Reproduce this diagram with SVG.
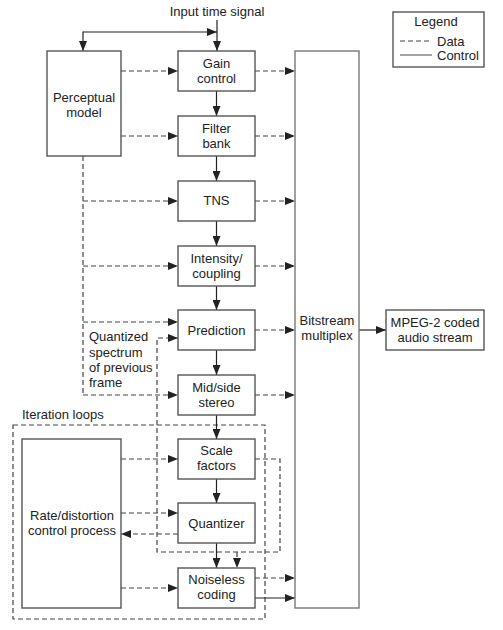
<svg xmlns="http://www.w3.org/2000/svg" width="503" height="630" viewBox="0 0 503 630">
<defs>
<marker id="ah" viewBox="0 0 10 8" refX="10" refY="4" markerWidth="10" markerHeight="8" markerUnits="userSpaceOnUse" orient="auto">
<path d="M0,0 L10,4 L0,8 Z" fill="#222"/>
</marker>
</defs>
<style>
text{font-family:"Liberation Sans",Arial,sans-serif;font-size:13px;fill:#222;text-anchor:middle}
.box{fill:#fff;stroke:#555;stroke-width:1.4}
.s{fill:none;stroke:#222;stroke-width:1.2}
.d{fill:none;stroke:#444;stroke-width:1.2;stroke-dasharray:5,3}
.a{marker-end:url(#ah)}
</style>
<rect width="503" height="630" fill="#fff"/>
<text x="217" y="16">Input time signal</text>

<g id="legend">
<rect x="393" y="12" width="91" height="55" class="box"/>
<text x="436" y="26">Legend</text>
<line x1="400" y1="41" x2="432" y2="41" class="d"/>
<text x="437" y="46" style="text-anchor:start">Data</text>
<line x1="400" y1="55" x2="432" y2="55" class="s" style="stroke:#666"/>
<text x="437" y="60" style="text-anchor:start">Control</text>
</g>

<g id="iteration-loops">
<rect x="13" y="425" width="252" height="194" class="d"/>
<text x="22" y="419" style="text-anchor:start">Iteration loops</text>
</g>

<g id="connectors">
<line x1="217" y1="20" x2="217" y2="51" class="s a"/>
<line x1="83" y1="32" x2="217" y2="32" class="s a"/>
<line x1="83" y1="31.4" x2="83" y2="51" class="s a"/>
<line x1="216.5" y1="91" x2="216.5" y2="116" class="s a"/>
<line x1="216.5" y1="156" x2="216.5" y2="181" class="s a"/>
<line x1="216.5" y1="221" x2="216.5" y2="246" class="s a"/>
<line x1="216.5" y1="286" x2="216.5" y2="310" class="s a"/>
<line x1="216.5" y1="350" x2="216.5" y2="375" class="s a"/>
<line x1="216.5" y1="415" x2="216.5" y2="439" class="s a"/>
<line x1="216.5" y1="479" x2="216.5" y2="503" class="s a"/>
<line x1="216.5" y1="543" x2="216.5" y2="568" class="s a"/>
<line x1="255" y1="71" x2="295" y2="71" class="d a"/>
<line x1="255" y1="136" x2="295" y2="136" class="d a"/>
<line x1="255" y1="201" x2="295" y2="201" class="d a"/>
<line x1="255" y1="266" x2="295" y2="266" class="d a"/>
<line x1="255" y1="330" x2="295" y2="330" class="d a"/>
<line x1="255" y1="395" x2="295" y2="395" class="d a"/>
<line x1="255" y1="578" x2="295" y2="578" class="d a"/>
<line x1="255" y1="598" x2="295" y2="598" class="s a"/>
<line x1="359" y1="330" x2="386" y2="330" class="s a"/>
<line x1="121" y1="71" x2="178" y2="71" class="d a"/>
<line x1="121" y1="136" x2="178" y2="136" class="d a"/>
<line x1="83" y1="156" x2="83" y2="395" class="d"/>
<line x1="83" y1="201" x2="178" y2="201" class="d a"/>
<line x1="83" y1="266" x2="178" y2="266" class="d a"/>
<line x1="83" y1="322" x2="178" y2="322" class="d a"/>
<line x1="83" y1="395" x2="178" y2="395" class="d a"/>
<path d="M255,459 H280 V552 H157 V338 H178" class="d a"/>
<line x1="237" y1="552" x2="237" y2="568" class="d a"/>
<line x1="121" y1="459" x2="178" y2="459" class="d a"/>
<line x1="121" y1="513" x2="178" y2="513" class="d a"/>
<line x1="178" y1="534" x2="121" y2="534" class="d a"/>
<line x1="121" y1="588" x2="178" y2="588" class="d a"/>
</g>

<g id="perceptual-model">
<rect x="47" y="51" width="74" height="105" class="box"/>
<text x="84" y="102">Perceptual</text>
<text x="84" y="117">model</text>
</g>
<g id="gain-control">
<rect x="178" y="51" width="77" height="40" class="box"/>
<text x="216.5" y="68">Gain</text>
<text x="216.5" y="83">control</text>
</g>
<g id="filter-bank">
<rect x="178" y="116" width="77" height="40" class="box"/>
<text x="216.5" y="133">Filter</text>
<text x="216.5" y="148">bank</text>
</g>
<g id="tns">
<rect x="178" y="181" width="77" height="40" class="box"/>
<text x="216.5" y="205">TNS</text>
</g>
<g id="intensity-coupling">
<rect x="178" y="246" width="77" height="40" class="box"/>
<text x="216.5" y="263">Intensity/</text>
<text x="216.5" y="278">coupling</text>
</g>
<g id="prediction">
<rect x="178" y="310" width="77" height="40" class="box"/>
<text x="216.5" y="335">Prediction</text>
</g>
<g id="quantized-label">
<text x="89" y="341" style="text-anchor:start">Quantized</text>
<text x="89" y="357" style="text-anchor:start">spectrum</text>
<text x="89" y="372" style="text-anchor:start">of previous</text>
<text x="89" y="387" style="text-anchor:start">frame</text>
</g>
<g id="mid-side-stereo">
<rect x="178" y="375" width="77" height="40" class="box"/>
<text x="216.5" y="392">Mid/side</text>
<text x="216.5" y="407">stereo</text>
</g>
<g id="scale-factors">
<rect x="178" y="439" width="77" height="40" class="box"/>
<text x="216.5" y="455">Scale</text>
<text x="216.5" y="470">factors</text>
</g>
<g id="quantizer">
<rect x="178" y="503" width="77" height="40" class="box"/>
<text x="216.5" y="528">Quantizer</text>
</g>
<g id="noiseless-coding">
<rect x="178" y="568" width="77" height="40" class="box"/>
<text x="216.5" y="584">Noiseless</text>
<text x="216.5" y="599">coding</text>
</g>
<g id="rate-distortion">
<rect x="22" y="439" width="99" height="169" class="box"/>
<text x="72" y="520">Rate/distortion</text>
<text x="72" y="535">control process</text>
</g>
<g id="bitstream-multiplex">
<rect x="295" y="51" width="64" height="557" class="box" style="stroke:#777"/>
<text x="327" y="325">Bitstream</text>
<text x="327" y="340">multiplex</text>
</g>
<g id="mpeg2-stream">
<rect x="386" y="310" width="98" height="40" class="box"/>
<text x="435" y="327">MPEG-2 coded</text>
<text x="435" y="342">audio stream</text>
</g>
</svg>
